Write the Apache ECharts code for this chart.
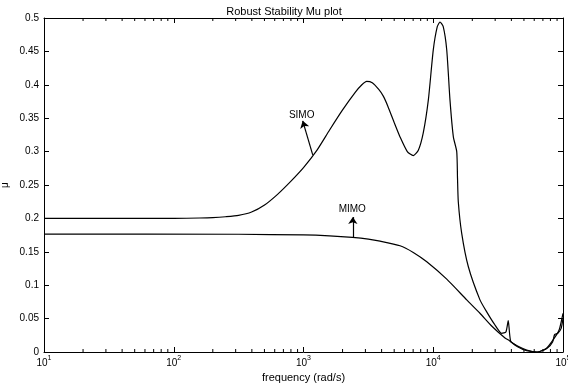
<!DOCTYPE html>
<html>
<head>
<meta charset="utf-8">
<script src="https://cdn.jsdelivr.net/npm/echarts@6/dist/echarts.min.js"></script>
<style>
  html, body { margin: 0; padding: 0; background: #fff; }
  #chart { width: 568px; height: 385px; }
</style>
</head>
<body>
<div id="chart"></div>
<script>
// frequency in rad/s, mu
const simoFreq = [10, 100, 158, 200, 251, 316, 398, 501, 631, 794, 1000, 1259, 1585, 1995, 2512, 2818, 3069,
  3388, 3802, 4121, 4467, 5012, 5546, 6310, 7015, 7674, 8375, 9162, 10000, 10740, 11272, 11940, 12706, 13459,
  14289, 15171, 15382, 15596, 16558, 18621, 22909, 25823, 29512, 33651, 36308, 37844, 39537, 44668,
  52481, 63096, 74131, 85114, 93325, 100000]
const simoMu = [0.2, 0.2, 0.2006, 0.2012, 0.2025, 0.2045, 0.2095, 0.22, 0.236, 0.255, 0.276, 0.301, 0.332, 0.362,
  0.389, 0.4, 0.405, 0.403, 0.393, 0.383, 0.368, 0.343, 0.322, 0.3, 0.294, 0.302, 0.328, 0.377, 0.452, 0.487,
  0.494, 0.487, 0.452, 0.377, 0.322, 0.3, 0.26, 0.225, 0.178, 0.128, 0.078, 0.06, 0.042, 0.028, 0.03,
  0.047, 0.016, 0.008, 0.002, 0, 0.005, 0.02, 0.033, 0.058]

const mimoFreq = [10, 316, 1000, 1585, 2388, 3162, 3890, 5546, 7015, 8913, 12706, 18113, 22909, 28184,
  35727, 38019, 39811, 44668, 52481, 63096, 75858, 83176, 86099, 91201, 96605, 100000]
const mimoMu = [0.1765, 0.1763, 0.1752, 0.1738, 0.1715, 0.169, 0.166, 0.159, 0.149, 0.135, 0.109, 0.078, 0.058, 0.039,
  0.021, 0.018, 0.015, 0.009, 0.003, 0, 0.006, 0.015, 0.026, 0.028, 0.035, 0.05]

const minorDecades = [10, 100, 1000, 10000]
const minorSteps = [2, 3, 4, 5, 6, 7, 8, 9]

// annotation positions [freq, mu]
const simoText = [968, 0.355]
const simoArrow = [[1178, 0.295], [986, 0.346]]
const mimoText = [2377, 0.2143]
const mimoArrow = [[2400, 0.1715], [2400, 0.202]]

const font = 'Liberation Sans, Arial, sans-serif'

const zip = (xs, ys) => xs.map((x, i) => [x, ys[i]])

const minorTicks = []
minorDecades.forEach(d => minorSteps.forEach(s => minorTicks.push([d * s, 0])))

const chart = echarts.init(document.getElementById('chart'))

const baseX = {
  type: 'log',
  logBase: 10,
  min: 10,
  max: 100000,
  splitNumber: 4,
  axisLine: { show: true, onZero: false, lineStyle: { color: '#000', width: 1 } },
  axisTick: { show: true, inside: true, length: 5, lineStyle: { color: '#000' } },
  splitLine: { show: false }
}
const baseY = {
  type: 'value',
  min: 0,
  max: 0.5,
  interval: 0.05,
  axisLine: { show: true, onZero: false, lineStyle: { color: '#000', width: 1 } },
  axisTick: { show: true, inside: true, length: 5, lineStyle: { color: '#000' } },
  splitLine: { show: false }
}

const lineSeries = (name, freq, mu, arrow, textAt) => ({
  name,
  type: 'line',
  data: zip(freq, mu),
  showSymbol: false,
  smooth: 0.2,
  lineStyle: { color: '#000', width: 1.2 },
  markLine: {
    silent: true,
    symbol: ['none', 'arrow'],
    symbolSize: 7,
    label: { show: false },
    lineStyle: { color: '#000', width: 1.2, type: 'solid' },
    data: [[{ coord: arrow[0] }, { coord: arrow[1] }]]
  },
  markPoint: {
    silent: true,
    symbol: 'circle',
    symbolSize: 0,
    label: { show: true, position: 'inside', fontFamily: font, fontSize: 10, color: '#000' },
    data: [{ coord: textAt, value: name }]
  }
})

chart.setOption({
  animation: false,
  backgroundColor: '#fff',
  title: {
    text: 'Robust Stability Mu plot',
    left: 'center',
    top: 1,
    textStyle: { fontFamily: font, fontSize: 11, fontWeight: 'normal', color: '#000' }
  },
  grid: { left: 44, right: 5, top: 18, bottom: 33, outerBoundsMode: 'none', containLabel: false },
  xAxis: [
    {
      ...baseX,
      position: 'bottom',
      name: 'frequency (rad/s)',
      nameLocation: 'middle',
      nameGap: 20,
      nameTextStyle: { fontFamily: font, fontSize: 11, color: '#000' },
      axisLabel: {
        margin: 3,
        formatter: v => '{b|10}{s|' + Math.round(Math.log10(v)) + '}',
        rich: {
          b: { fontFamily: font, fontSize: 10, color: '#000', lineHeight: 13, verticalAlign: 'bottom' },
          s: { fontFamily: font, fontSize: 7, color: '#000', lineHeight: 7, verticalAlign: 'top' }
        }
      }
    },
    { ...baseX, position: 'top', axisLabel: { show: false } }
  ],
  yAxis: [
    {
      ...baseY,
      position: 'left',
      name: 'μ',
      nameLocation: 'middle',
      nameRotate: 90,
      nameGap: 34,
      nameMoveOverlap: false,
      nameTextStyle: { fontFamily: font, fontSize: 10, color: '#000' },
      axisLabel: { margin: 5, fontFamily: font, fontSize: 10, color: '#000' }
    },
    { ...baseY, position: 'right', axisLabel: { show: false } }
  ],
  series: [
    lineSeries('SIMO', simoFreq, simoMu, simoArrow, simoText),
    lineSeries('MIMO', mimoFreq, mimoMu, mimoArrow, mimoText),
    {
      // minor ticks of the log axis, bottom and top edges
      type: 'custom',
      silent: true,
      data: minorTicks,
      renderItem: (params, api) => {
        const v = api.value(0)
        const b = api.coord([v, 0])
        const t = api.coord([v, 0.5])
        const st = { stroke: '#000', lineWidth: 1 }
        return {
          type: 'group',
          children: [
            { type: 'line', shape: { x1: b[0], y1: b[1], x2: b[0], y2: b[1] - 3 }, style: st },
            { type: 'line', shape: { x1: t[0], y1: t[1], x2: t[0], y2: t[1] + 3 }, style: st }
          ]
        }
      }
    }
  ]
})
</script>
</body>
</html>
